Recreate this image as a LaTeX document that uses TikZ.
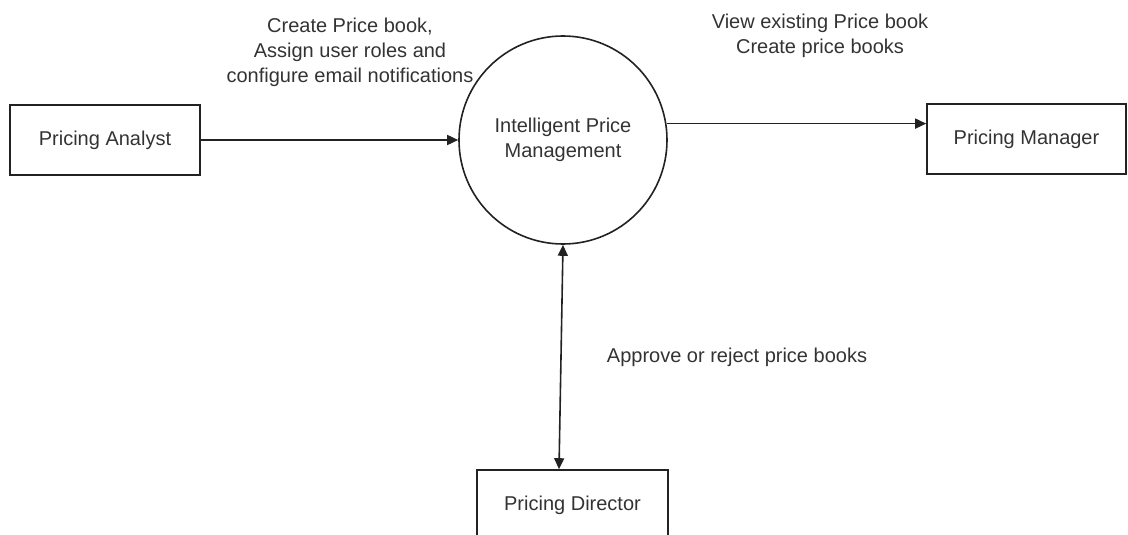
\documentclass[tikz,border=0pt]{standalone}
\usepackage{fontspec}
\setmainfont{Liberation Sans}
\usetikzlibrary{arrows.meta}
\definecolor{txt}{HTML}{333333}
\definecolor{ln}{HTML}{222222}
\begin{document}
\begin{tikzpicture}[x=1pt,y=-1pt,
  font=\fontsize{20}{25}\selectfont,
  entity/.style={draw=ln,line width=1.6pt,rectangle,minimum height=70pt,text=txt,inner sep=0pt},
  proc/.style={draw=ln,line width=1.6pt,circle,minimum size=208pt,text=txt,align=center,inner sep=0pt},
  flow/.style={draw=ln,line width=1.6pt,-{Triangle[length=11pt,width=10pt]}},
  lbl/.style={text=txt,align=center,inner sep=0pt}]
\useasboundingbox (0,0) rectangle (1128,535);
\node[entity,minimum width=190pt] (pa) at (105,140) {Pricing Analyst};
\node[proc] (ipm) at (563,140) {Intelligent Price\\Management};
\node[entity,minimum width=199pt] (pm) at (1026.5,139) {Pricing Manager};
\node[entity,minimum width=191pt] (pd) at (572.5,505) {\raisebox{4pt}{Pricing Director}};
\draw[flow] (pa.east) -- (ipm.west);
\draw[flow] (ipm.9.4) -- (ipm.9.4 -| pm.west);
\draw[draw=ln,line width=1.6pt,{Triangle[length=11pt,width=10pt]}-{Triangle[length=11pt,width=10pt]}] ([xshift=-13.5pt]pd.north) -- (ipm.south);
\node[lbl] (l1) at (350,52) {Create Price book,\\Assign user roles and\\configure email notifications};
\node[lbl] (l2) at (820,36) {View existing Price book\\Create price books};
\node[lbl] (l3) at (737,357) {Approve or reject price books};
\end{tikzpicture}
\end{document}
